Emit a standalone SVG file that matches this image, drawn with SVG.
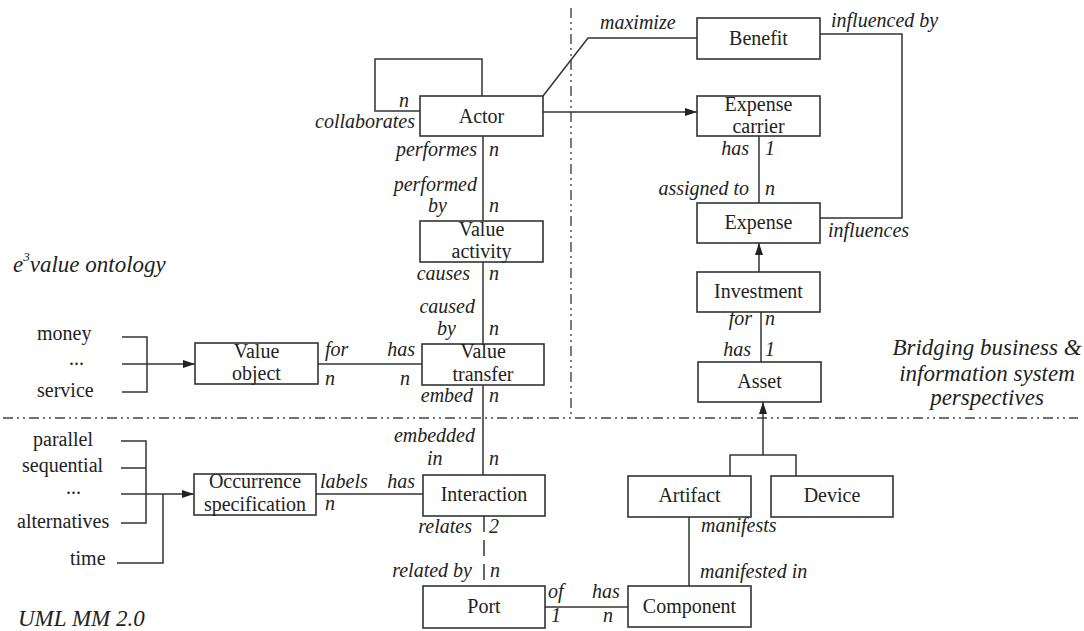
<svg xmlns="http://www.w3.org/2000/svg" width="1084" height="631" viewBox="0 0 1084 631" font-family="Liberation Serif, Times New Roman, Times, serif">
<style>
.box{fill:#fff;stroke:#333;stroke-width:1.6}
.ln{fill:none;stroke:#333;stroke-width:1.5}
.dd{fill:none;stroke:#444;stroke-width:1.4;stroke-dasharray:10,4,2,4,2,4}
.t{font-size:20px;fill:#222;text-anchor:middle}
.tl{font-size:20px;fill:#222}
.i{font-size:20px;font-style:italic;fill:#222}
.e{text-anchor:end}
.big{font-size:23px;font-style:italic;fill:#222}
</style>
<defs>
<marker id="arr" viewBox="0 0 12 8" refX="12" refY="4" markerWidth="12" markerHeight="8" markerUnits="userSpaceOnUse" orient="auto">
<path d="M0,0 L12,4 L0,8 z" fill="#222"/>
</marker>
</defs>
<rect width="1084" height="631" fill="#fff"/>
<g id="regions">
<path class="dd" d="M571,8 V418"/>
<path class="dd" d="M3,418 H1078"/>
<text class="big" x="13" y="272">e<tspan font-size="13" dy="-11">3</tspan><tspan dy="11">value ontology</tspan></text>
<text class="big" text-anchor="middle" x="987" y="355">Bridging business &amp;</text>
<text class="big" text-anchor="middle" x="987" y="381">information system</text>
<text class="big" text-anchor="middle" x="987" y="405">perspectives</text>
<text class="big" x="18" y="626">UML MM 2.0</text>
</g>
<g id="connectors">
<path class="ln" d="M482,96 V59 H375 V111 H420"/>
<path class="ln" d="M543,96 L588,38 H697"/>
<path class="ln" d="M543,112 H697" marker-end="url(#arr)"/>
<path class="ln" d="M483,136 V221"/>
<path class="ln" d="M483,262 V344"/>
<path class="ln" d="M318,364 H422"/>
<path class="ln" d="M483,385 V475"/>
<path class="ln" d="M316,494 H423"/>
<path class="ln" d="M484,516 V586" stroke-dasharray="16,8"/>
<path class="ln" d="M545,607 H628"/>
<path class="ln" d="M689,517 V586"/>
<path class="ln" d="M730,476 V455 H796 V476"/>
<path class="ln" d="M763,455 V402" marker-end="url(#arr)"/>
<path class="ln" d="M761,312 V362"/>
<path class="ln" d="M759,272 V243" marker-end="url(#arr)"/>
<path class="ln" d="M759,136 V203"/>
<path class="ln" d="M820,34 H902 V218 H820"/>
<path class="ln" d="M122,337 H147 V392 H122"/>
<path class="ln" d="M122,364 H195" marker-end="url(#arr)"/>
<path class="ln" d="M121,441 H146 V523 H121 M121,468 H146"/>
<path class="ln" d="M121,494 H194" marker-end="url(#arr)"/>
<path class="ln" d="M117,563 H163 V494"/>
</g>
<g id="labels">
<text class="i" x="399" y="107">n</text>
<text class="i e" x="415" y="128">collaborates</text>
<text class="i" x="600" y="29">maximize</text>
<text class="i" x="831" y="27">influenced by</text>
<text class="i e" x="477" y="156">performes</text>
<text class="i" x="489" y="156">n</text>
<text class="i e" x="477" y="191">performed</text>
<text class="i" x="428" y="212">by</text>
<text class="i" x="489" y="212">n</text>
<text class="i e" x="470" y="280">causes</text>
<text class="i" x="489" y="280">n</text>
<text class="i e" x="475" y="313">caused</text>
<text class="i" x="437" y="335">by</text>
<text class="i" x="489" y="335">n</text>
<text class="i e" x="415" y="356">has</text>
<text class="i" x="400" y="385">n</text>
<text class="i" x="325" y="356">for</text>
<text class="i" x="325" y="385">n</text>
<text class="i e" x="473" y="402">embed</text>
<text class="i" x="489" y="402">n</text>
<text class="i e" x="749" y="155">has</text>
<text class="i" x="765" y="155">1</text>
<text class="i e" x="749" y="195">assigned to</text>
<text class="i" x="765" y="195">n</text>
<text class="i" x="828" y="237">influences</text>
<text class="i e" x="752" y="325">for</text>
<text class="i" x="765" y="325">n</text>
<text class="i e" x="751" y="356">has</text>
<text class="i" x="765" y="356">1</text>
<text class="i e" x="475" y="442">embedded</text>
<text class="i" x="427" y="465">in</text>
<text class="i" x="489" y="465">n</text>
<text class="i" x="320" y="488">labels</text>
<text class="i e" x="415" y="488">has</text>
<text class="i" x="325" y="510">n</text>
<text class="i e" x="472" y="533">relates</text>
<text class="i" x="489" y="533">2</text>
<text class="i e" x="472" y="577">related by</text>
<text class="i" x="490" y="577">n</text>
<text class="i" x="548" y="598">of</text>
<text class="i" x="551" y="622">1</text>
<text class="i" x="592" y="598">has</text>
<text class="i" x="603" y="622">n</text>
<text class="i" x="701" y="532">manifests</text>
<text class="i" x="700" y="578">manifested in</text>
<text class="tl" x="37" y="340">money</text>
<text class="tl" x="69" y="365">...</text>
<text class="tl" x="37" y="397">service</text>
<text class="tl" x="33" y="446">parallel</text>
<text class="tl" x="22" y="472">sequential</text>
<text class="tl" x="66" y="494">...</text>
<text class="tl" x="17" y="528">alternatives</text>
<text class="tl" x="70" y="565">time</text>
</g>
<g id="actor"><rect class="box" x="420" y="96" width="123" height="40"/><text class="t" x="481.5" y="123">Actor</text></g>
<g id="benefit"><rect class="box" x="697" y="18" width="123" height="41"/><text class="t" x="758.5" y="45">Benefit</text></g>
<g id="expense-carrier"><rect class="box" x="697" y="96" width="123" height="40"/><text class="t" x="758.5" y="111">Expense</text><text class="t" x="758.5" y="133">carrier</text></g>
<g id="expense"><rect class="box" x="697" y="203" width="123" height="40"/><text class="t" x="758.5" y="229">Expense</text></g>
<g id="value-activity"><rect class="box" x="420" y="221" width="123" height="41"/><text class="t" x="481.5" y="236">Value</text><text class="t" x="481.5" y="258">activity</text></g>
<g id="investment"><rect class="box" x="697" y="272" width="123" height="40"/><text class="t" x="758.5" y="298">Investment</text></g>
<g id="value-object"><rect class="box" x="195" y="343" width="123" height="41"/><text class="t" x="256.5" y="358">Value</text><text class="t" x="256.5" y="380">object</text></g>
<g id="value-transfer"><rect class="box" x="422" y="344" width="122" height="41"/><text class="t" x="483" y="358">Value</text><text class="t" x="483" y="381">transfer</text></g>
<g id="asset"><rect class="box" x="698" y="362" width="123" height="40"/><text class="t" x="759.5" y="388">Asset</text></g>
<g id="occurrence-specification"><rect class="box" x="194" y="474" width="122" height="41"/><text class="t" x="255" y="488">Occurrence</text><text class="t" x="255" y="511">specification</text></g>
<g id="interaction"><rect class="box" x="423" y="475" width="122" height="41"/><text class="t" x="484" y="501">Interaction</text></g>
<g id="artifact"><rect class="box" x="628" y="476" width="123" height="41"/><text class="t" x="689.5" y="502">Artifact</text></g>
<g id="device"><rect class="box" x="771" y="476" width="122" height="41"/><text class="t" x="832" y="502">Device</text></g>
<g id="port"><rect class="box" x="423" y="586" width="122" height="42"/><text class="t" x="484" y="613">Port</text></g>
<g id="component"><rect class="box" x="628" y="586" width="123" height="41"/><text class="t" x="689.5" y="613">Component</text></g>
</svg>
